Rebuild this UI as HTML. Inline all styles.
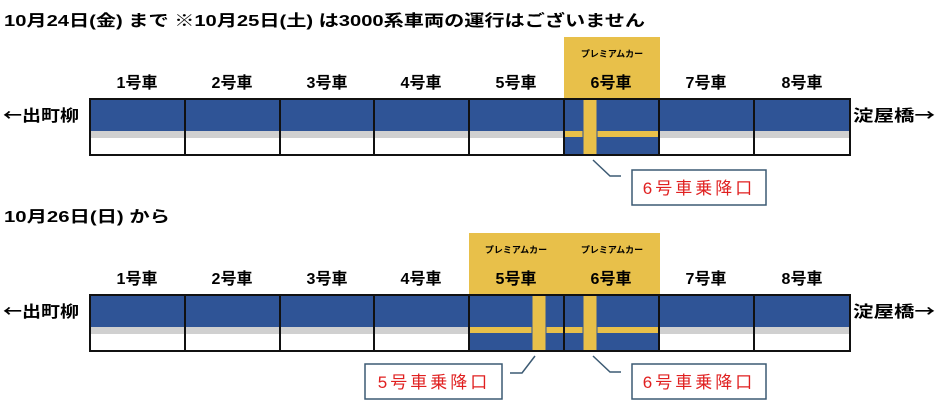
<!DOCTYPE html><html><head><meta charset="utf-8"><style>body{margin:0;background:#fff}svg{display:block}text{font-family:"Liberation Sans","Noto Sans CJK JP",sans-serif}.j{font-family:"Noto Sans CJK JP",sans-serif}</style></head><body>
<svg width="940" height="414" viewBox="0 0 940 414">
<g font-weight="bold" font-size="16" fill="#000">
<text x="4" y="26" textLength="641" lengthAdjust="spacingAndGlyphs">10月24日(金)  まで   ※10月25日(土) は3000系車両の運行はございません</text>
<text x="4" y="222" textLength="166" lengthAdjust="spacingAndGlyphs">10月26日(日)  から</text>
</g>
<defs>
<g id="train">
<rect x="90" y="0" width="760" height="56" fill="#fff"/>
<rect x="90" y="0" width="760" height="32" fill="#2f5496"/>
<rect x="90" y="32" width="760" height="7" fill="#d0d0d0"/>
<g font-weight="bold" font-size="16" fill="#000">
<text class="j" x="3" y="22" textLength="76" lengthAdjust="spacingAndGlyphs">←出町柳</text>
<text class="j" x="853" y="22" textLength="82" lengthAdjust="spacingAndGlyphs">淀屋橋→</text>
</g>
</g>
<g id="labels" font-weight="bold" font-size="16" text-anchor="middle" fill="#000">
<text x="137" y="-11">1号車</text><text x="232" y="-11">2号車</text><text x="327" y="-11">3号車</text><text x="421" y="-11">4号車</text><text x="516" y="-11">5号車</text><text x="611" y="-11">6号車</text><text x="706" y="-11">7号車</text><text x="802" y="-11">8号車</text>
</g>
<g id="divs" stroke="#111" stroke-width="2" fill="none">
<rect x="90" y="0" width="760" height="56"/>
<path d="M185 0V56M280 0V56M374 0V56M469 0V56M564 0V56M659 0V56M754 0V56"/>
</g>
</defs>
<g transform="translate(0,99)">
<rect x="564" y="-62" width="96" height="62" fill="#e8c04a"/>
<text x="612" y="-42" font-size="9" font-weight="bold" text-anchor="middle">プレミアムカー</text>
<use href="#train"/>
<rect x="564" y="0" width="95" height="56" fill="#2f5496"/>
<rect x="564" y="32" width="95" height="6" fill="#e8c04a"/>
<rect x="583" y="0" width="14" height="56" fill="#e8c04a" stroke="#2f5496" stroke-width="1"/>
<use href="#labels"/>
<use href="#divs"/>
<path d="M593 61L610 77H621" stroke="#3c5a73" stroke-width="1.5" fill="none"/>
<rect x="632" y="71" width="134" height="35" fill="#fff" stroke="#3c5a73" stroke-width="1.5"/>
<text x="699" y="95" font-size="17" fill="#e02020" text-anchor="middle" letter-spacing="3">6号車乗降口</text>
</g>
<g transform="translate(0,295)">
<rect x="469" y="-62" width="191" height="62" fill="#e8c04a"/>
<text x="516" y="-42" font-size="9" font-weight="bold" text-anchor="middle">プレミアムカー</text>
<text x="612" y="-42" font-size="9" font-weight="bold" text-anchor="middle">プレミアムカー</text>
<use href="#train"/>
<rect x="469" y="0" width="190" height="56" fill="#2f5496"/>
<rect x="469" y="32" width="190" height="6" fill="#e8c04a"/>
<rect x="532" y="0" width="14" height="56" fill="#e8c04a" stroke="#2f5496" stroke-width="1"/>
<rect x="583" y="0" width="14" height="56" fill="#e8c04a" stroke="#2f5496" stroke-width="1"/>
<use href="#labels"/>
<use href="#divs"/>
<path d="M535 61L522 78H510" stroke="#3c5a73" stroke-width="1.5" fill="none"/>
<rect x="365" y="69" width="137" height="35" fill="#fff" stroke="#3c5a73" stroke-width="1.5"/>
<text x="434" y="93" font-size="17" fill="#e02020" text-anchor="middle" letter-spacing="3">5号車乗降口</text>
<path d="M593 61L610 77H621" stroke="#3c5a73" stroke-width="1.5" fill="none"/>
<rect x="632" y="69" width="134" height="35" fill="#fff" stroke="#3c5a73" stroke-width="1.5"/>
<text x="699" y="93" font-size="17" fill="#e02020" text-anchor="middle" letter-spacing="3">6号車乗降口</text>
</g>
</svg>
</body></html>
